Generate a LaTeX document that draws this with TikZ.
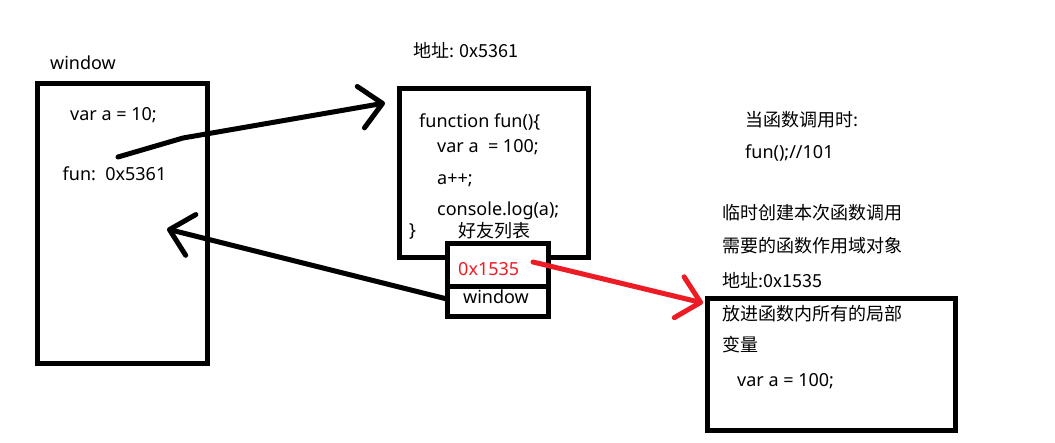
\documentclass[tikz,border=0pt]{standalone}
\usepackage{fontspec}
\setmainfont{Noto Sans}
\newfontfamily\cjk{Noto Sans CJK SC}
\usetikzlibrary{positioning,arrows.meta}
\definecolor{paintred}{RGB}{237,28,36}
\tikzset{>={Straight Barb[length=22pt,width=42pt,round]}}

\begin{document}
\begin{tikzpicture}[
    x=1pt, y=-1pt,
    font=\fontsize{18}{20}\selectfont,
    memory/.style={rectangle, draw, line width=5pt, fill=white, inner sep=0pt},
    code/.style={anchor=base west, inner sep=0pt},
    link/.style={->, line width=5pt, line cap=round, line join=round}
]
\useasboundingbox (0,0) rectangle (1055,443);

% global object
\node[memory, minimum width=170pt, minimum height=280pt] (winbox) at (122.5,224) {};
\node[code] (winname) at (50,70) {window};
\node[code] (vara) at (70,121) {var a = 10;};
\node[code] (funvar) at (62.5,181) {fun:\ \ 0x5361};

% function object
\node[memory, minimum width=188.5pt, minimum height=168.5pt] (funbox) at (493.75,173.25) {};
\node[code] (funaddr) at (413,58) {\cjk 地址: 0x5361};
\node[code] (l1) at (419,128) {function fun()\{};
\node[code] (l2) at (437,153) {var a\ \ = 100;};
\node[code] (l3) at (437,185) {a++;};
\node[code] (l4) at (437,216) {console.log(a);};
\node[code] (l5) at (409,237) {\}};
\node[code] (chainname) at (458,238) {\cjk 好友列表};

% scope chain
\node[memory, minimum width=100.5pt, minimum height=42.5pt] (scopetop) at (497.75,265.25) {};
\node[memory, minimum width=100.5pt, minimum height=30.5pt] (scopebot) at (497.75,301.75) {};
\node[code, text=paintred] (acref) at (458,276) {0x1535};
\node[code] (winref) at (463,304) {window};

% call notes
\node[code] (note1) at (745,127) {\cjk 当函数调用时:};
\node[code] (note2) at (745,159) {fun();//101};
\node[code] (note3) at (722,220) {\cjk 临时创建本次函数调用};
\node[code] (note4) at (722,253) {\cjk 需要的函数作用域对象};
\node[code] (acaddr) at (722,288) {\cjk 地址:0x1535};

% activation object
\node[memory, minimum width=248pt, minimum height=132pt] (acbox) at (831.5,365) {};
\node[code] (ac1) at (722,321) {\cjk 放进函数内所有的局部};
\node[code] (ac2) at (722,352) {\cjk 变量};
\node[code] (ac3) at (737,387) {var a = 100;};

% references
\coordinate (funref) at (118,157);
\coordinate (bend) at (183,138);
\coordinate (funtip) at (385,103);
\coordinate (chainwin) at (447,299);
\coordinate (wintip) at (167,229);
\coordinate (chainref) at (533,262);
\coordinate (actip) at (703,303);

\draw[link] (funref) -- (bend) -- (funtip);
\draw[link] (chainwin) -- (wintip);
\draw[link, paintred] (chainref) -- (actip);
\end{tikzpicture}
\end{document}
